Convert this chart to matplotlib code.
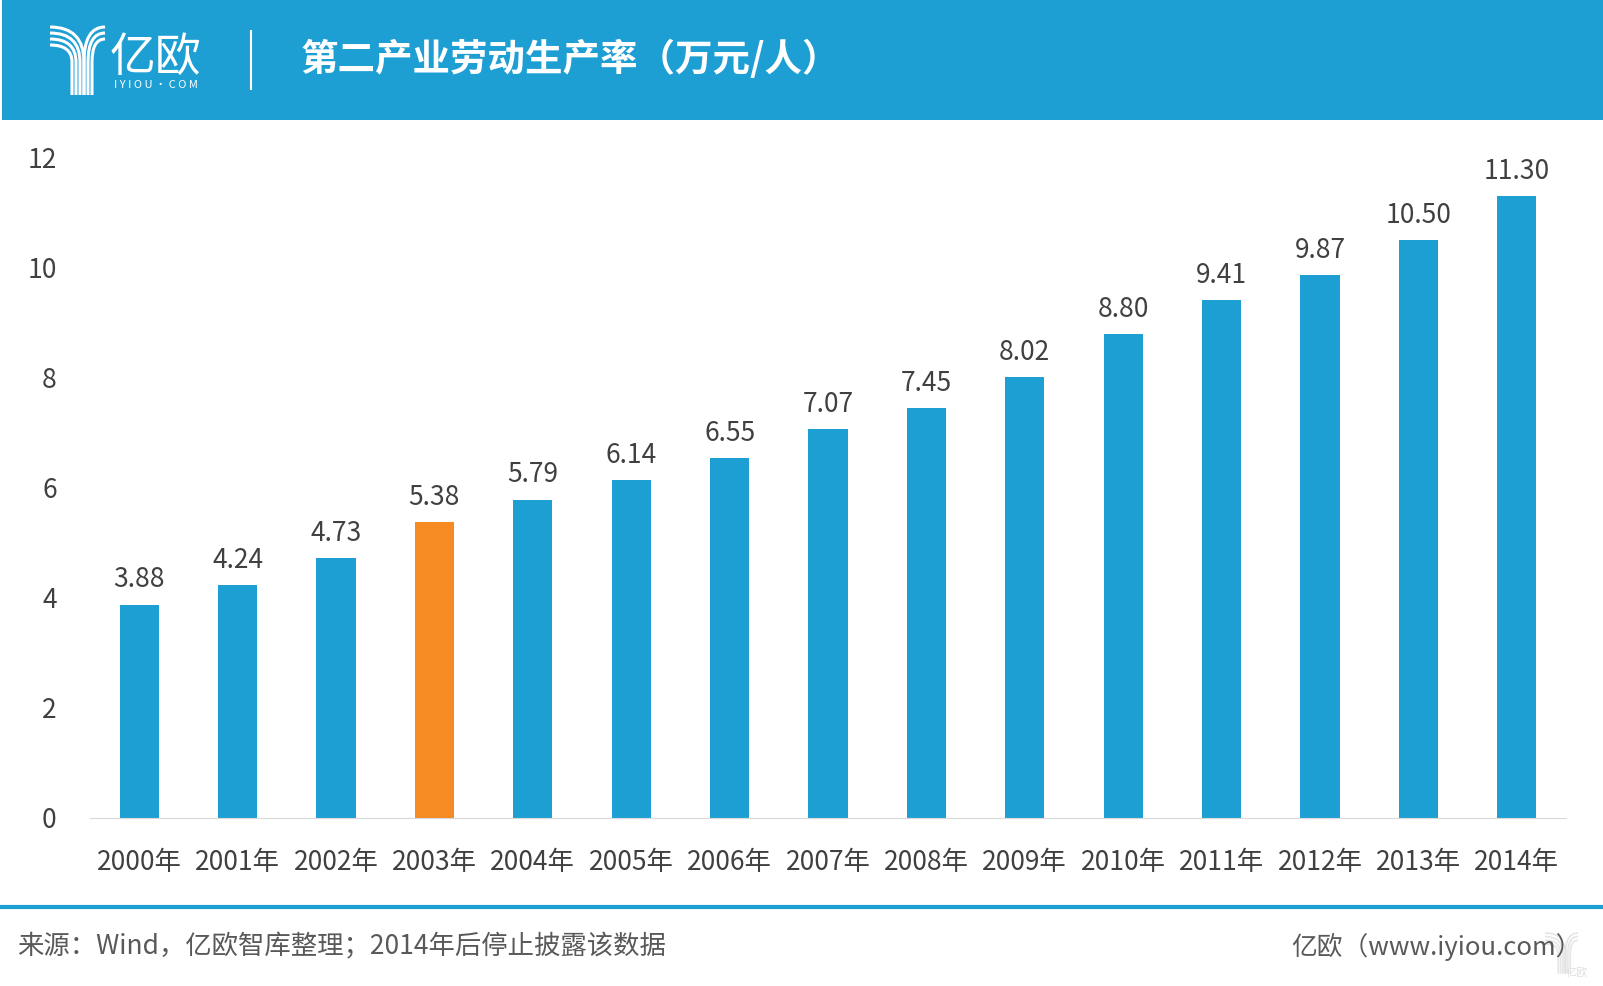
import matplotlib.pyplot as plt
from matplotlib.path import Path
from matplotlib.patches import PathPatch, Rectangle

plt.rcParams['font.family'] = ['Noto Sans CJK SC', 'DejaVu Sans']

# 数据
years = ['2000年', '2001年', '2002年', '2003年', '2004年', '2005年', '2006年', '2007年',
         '2008年', '2009年', '2010年', '2011年', '2012年', '2013年', '2014年']
values = [3.88, 4.24, 4.73, 5.38, 5.79, 6.14, 6.55, 7.07, 7.45, 8.02, 8.80, 9.41, 9.87, 10.50, 11.30]
highlight = '2003年'

title = '第二产业劳动生产率（万元/人）'
source = '来源：Wind，亿欧智库整理；2014年后停止披露该数据'
site = '亿欧（www.iyiou.com）'

BLUE = '#1E9FD3'
ORANGE = '#F58B22'
TXT = '#404040'

W, H = 1603, 986
fig = plt.figure(figsize=(W / 100, H / 100), dpi=100)

# 背景层（像素坐标，y 向下）
bg = fig.add_axes([0, 0, 1, 1])
bg.set_xlim(0, W)
bg.set_ylim(H, 0)
bg.axis('off')

bg.add_patch(Rectangle((2, 0), W - 2, 120, color=BLUE, lw=0))
bg.plot([251, 251], [31, 89], color='white', lw=1.5)
bg.text(301, 59, title, color='white', fontsize=27, fontweight='bold', va='center', ha='left')


def draw_logo(ax, x0, y0, s, color, alpha=1.0):
    # 简化的 Y 形标志
    lw = 2.2 * s
    for i in range(4):
        xi = x0 + (34 - 4 * i) * s
        yi = y0 + (5 + 6 * i) * s
        verts = [(x0, yi), (xi, yi), (xi, y0 + 40 * s), (xi, y0 + 73 * s)]
        p = Path(verts, [Path.MOVETO, Path.CURVE3, Path.CURVE3, Path.LINETO])
        ax.add_patch(PathPatch(p, fill=False, ec=color, lw=lw, alpha=alpha))
    for j in range(3):
        xj = x0 + (34 + 4 * j) * s
        yj = y0 + (5 + 6 * j) * s
        verts = [(x0 + 55 * s, yj), (xj, yj), (xj, y0 + 40 * s), (xj, y0 + 73 * s)]
        p = Path(verts, [Path.MOVETO, Path.CURVE3, Path.CURVE3, Path.LINETO])
        ax.add_patch(PathPatch(p, fill=False, ec=color, lw=lw, alpha=alpha))


draw_logo(bg, 50, 22, 1.0, 'white')
bg.text(110, 58, '亿欧', color='white', fontsize=33, fontweight='light', va='center', ha='left')
bg.text(114, 85, 'I Y I O U · C O M', color='white', fontsize=8, va='center', ha='left')

# 底部分隔线与来源
bg.plot([0, W], [907, 907], color=BLUE, lw=3)
bg.text(17, 947, source, color='#595959', fontsize=19, va='center', ha='left')
bg.text(1582, 947, site, color='#595959', fontsize=18.5, va='center', ha='right')
draw_logo(bg, 1545, 930, 0.6, '#d8d8d8', alpha=0.6)
bg.text(1566, 972, '亿欧', color='#e0e0e0', fontsize=8, va='center', ha='left')

# 柱状图
ax = fig.add_axes([90 / W, (H - 818) / H, (1566 - 90) / W, (818 - 158) / H])
colors = [ORANGE if y == highlight else BLUE for y in years]
x = range(len(years))
bars = ax.bar(x, values, width=0.4, color=colors)
for b, v in zip(bars, values):
    ax.annotate(f'{v:.2f}', (b.get_x() + b.get_width() / 2, v), xytext=(0, 8),
                textcoords='offset points', ha='center', va='bottom',
                fontsize=19, color=TXT, fontweight='light')

ax.set_xlim(-0.5, len(years) - 0.5)
ax.set_ylim(0, 12)
ax.set_yticks(range(0, 13, 2))
ax.set_xticks(list(x))
ax.set_xticklabels(years)
ax.tick_params(axis='both', length=0, labelsize=19, labelcolor=TXT)
ax.tick_params(axis='y', pad=24)
ax.tick_params(axis='x', pad=22)
for sp in ['top', 'right', 'left']:
    ax.spines[sp].set_visible(False)
ax.spines['bottom'].set_color('#d9d9d9')
ax.patch.set_alpha(0)

fig.savefig('out.png', dpi=100)
